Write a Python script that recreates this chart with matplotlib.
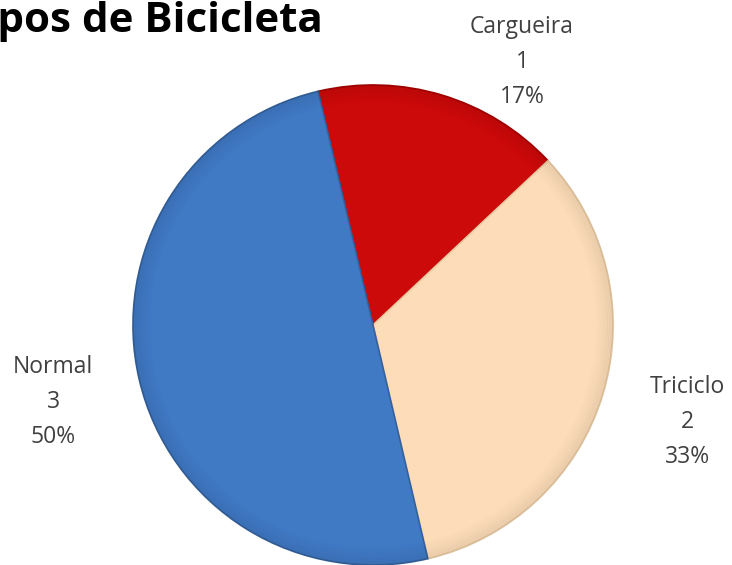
import matplotlib
matplotlib.use("Agg")
import matplotlib.pyplot as plt
import numpy as np

title = "Tipos de Bicicleta"
categories = ["Cargueira", "Triciclo", "Normal"]
values = [1, 2, 3]
colors = ["#CC0A0A", "#FDDDB9", "#4079C4"]
edge_colors = ["#A80000", "#E8C9A0", "#35619E"]

W, H = 732, 565
fig = plt.figure(figsize=(W / 100, H / 100), dpi=100)
ax = fig.add_axes([0, 0, 1, 1])

cx, cy, r = 373, H - 325, 240
wedges, _ = ax.pie(values, colors=colors, startangle=103.2, counterclock=False,
                   center=(cx, cy), radius=r, frame=True,
                   wedgeprops=dict(linewidth=1.2))
for w, ec in zip(wedges, edge_colors):
    w.set_edgecolor(ec)
ax.set_xlim(0, W)
ax.set_ylim(0, H)
ax.set_aspect("equal")
ax.axis("off")

# subtle bevel shading near the rim
for i in range(12):
    rr = r - i * 1.5
    ring = plt.Circle((cx, cy), rr, fill=False, lw=1.6, color="black",
                      alpha=0.05 * (1 - i / 12))
    ax.add_patch(ring)

total = sum(values)
label_pos = {"Cargueira": (522, 27), "Triciclo": (687, 387), "Normal": (53, 367)}
font = ["Open Sans", "DejaVu Sans"]
for cat, v in zip(categories, values):
    x, y0 = label_pos[cat]
    lines = [cat, f"{v}", f"{round(100 * v / total)}%"]
    for k, t in enumerate(lines):
        ax.text(x, H - (y0 + 35 * k), t, ha="center", va="center",
                fontsize=16.5, color="#404040", family=font)

# the reference shows this title cut at the left edge of the picture
ax.text(323, H - 32, title, ha="right", va="baseline", fontsize=30.3,
        fontweight="bold", color="black", family=font)

fig.savefig("out.png", dpi=100)
